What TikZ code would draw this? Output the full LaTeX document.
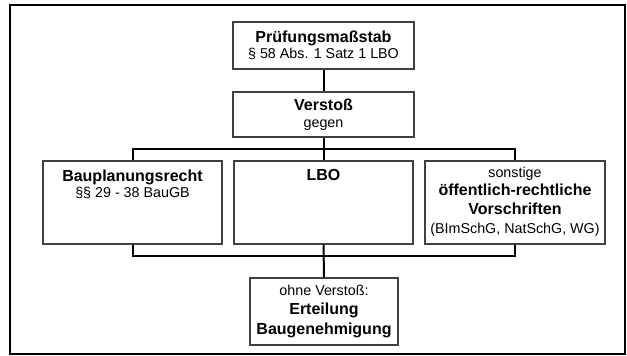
\documentclass[tikz,border=0pt]{standalone}
\usepackage{fontspec}
\setmainfont{Liberation Sans}
\definecolor{boxgray}{RGB}{64,64,64}
\newcommand{\bfbig}{\fontsize{16}{16}\selectfont\bfseries}
\begin{document}
\begin{tikzpicture}[x=1pt,y=-1pt,
  box/.style={draw=boxgray,line width=1.4pt,fill=white,inner sep=0pt,align=center},
  conn/.style={line width=2pt,draw=black},
  txt/.style={align=center,inner sep=0pt,anchor=north}]
\useasboundingbox (0,0) rectangle (627,356);
\draw[line width=2.5pt] (10,5) rectangle (625,354);

\node[box,minimum width=181pt,minimum height=47pt,font=\fontsize{14.3}{15.6}\selectfont] (pm) at (323.5,45.5)
  {{\bfbig Prüfungsmaßstab}\\§ 58 Abs. 1 Satz 1 LBO};
\node[box,minimum width=181pt,minimum height=45pt,font=\fontsize{14.3}{16.5}\selectfont] (vs) at (323.5,114.5)
  {{\bfbig Verstoß}\\gegen};

\node[box,minimum width=179pt,minimum height=83pt] (b1) at (132.5,202.5) {};
\node[box,minimum width=179pt,minimum height=83pt] (b2) at (323.5,202.5) {};
\node[box,minimum width=180pt,minimum height=83pt] (b3) at (515,202.5) {};

\node[txt,font=\fontsize{14.3}{16}\selectfont] (t1) at ([yshift=-9pt]b1.north)
  {{\bfbig Bauplanungsrecht}\\§§ 29 - 38 BauGB};
\node[txt,font=\fontsize{14.3}{16}\selectfont] (t2) at ([yshift=-9pt]b2.north)
  {{\bfbig LBO}};
\node[txt,font=\fontsize{14.3}{18.6}\selectfont] (t3) at ([yshift=-6.5pt]b3.north)
  {sonstige\\{\bfbig öffentlich-rechtliche}\\
   {\bfbig Vorschriften}\\(BImSchG, NatSchG, WG)};

\node[box,minimum width=148pt,minimum height=67pt,font=\fontsize{14.3}{19.2}\selectfont] (eb) at (324,311.5)
  {ohne Verstoß:\\{\bfbig Erteilung}\\{\bfbig Baugenehmigung}};

\draw[conn] (pm.south) -- (vs.north);
\draw[conn] (vs.south) -- (b2.north);
\draw[conn] (b1.north) -- ++(0,-11) -| (b3.north);
\draw[conn] (b2.south) -- (eb.north);
\draw[conn] (b1.south) -- ++(0,11) -| (b3.south);
\end{tikzpicture}
\end{document}
